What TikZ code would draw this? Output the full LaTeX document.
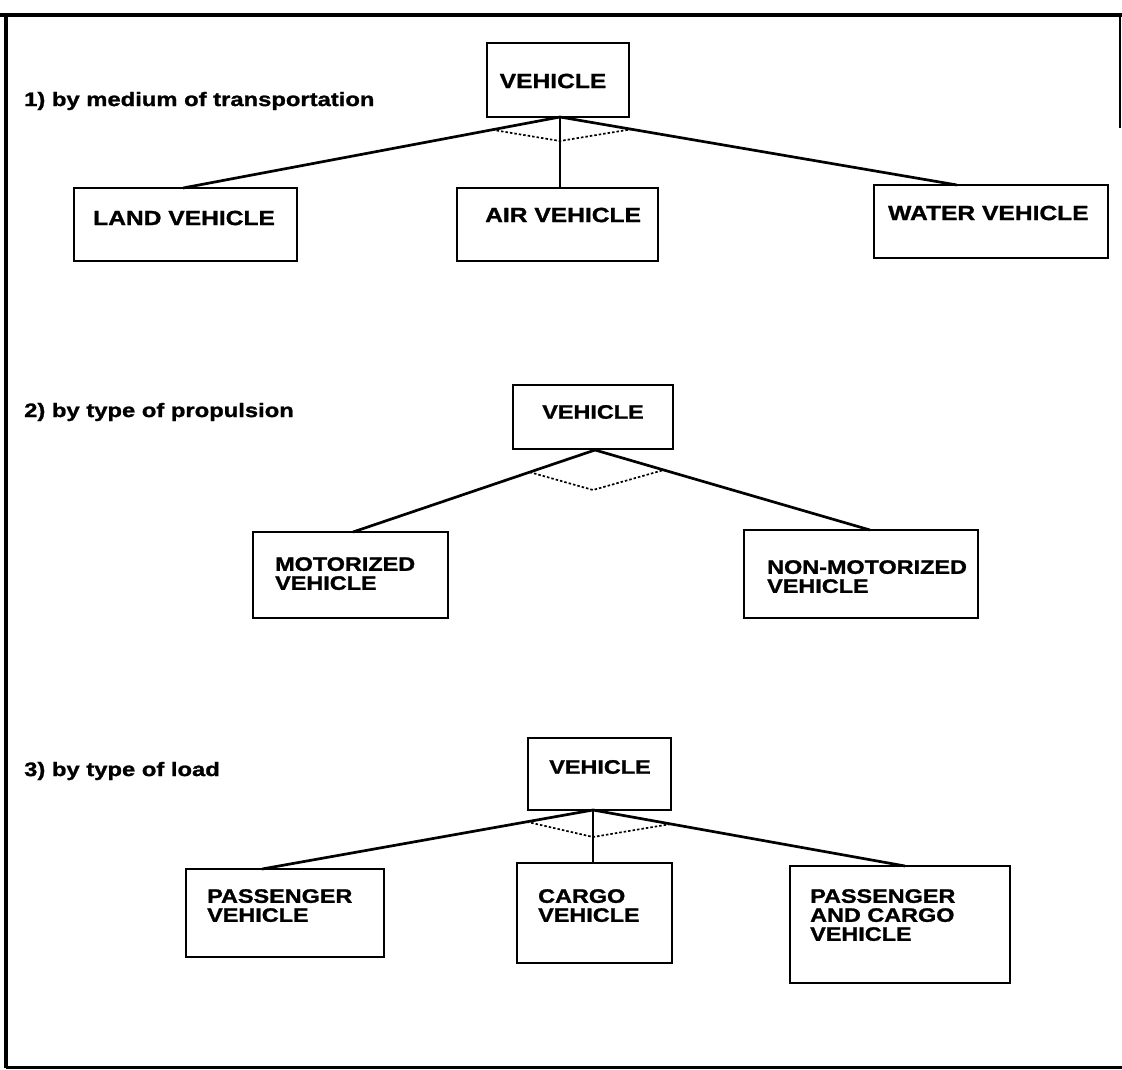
\documentclass[tikz,border=0pt]{standalone}
\usepackage{fontspec}
\setmainfont{Liberation Sans}
\newfontfamily\boxfont{Liberation Sans}[FakeStretch=1.2, BoldFeatures={FakeBold=1.3}]
\newfontfamily\capfont{Liberation Sans}[FakeStretch=1.22, BoldFeatures={FakeBold=1.3}]
\usetikzlibrary{calc}

\tikzset{
  box/.style={draw, line width=2.7pt, rectangle, inner sep=0pt},
  txt/.style={inner sep=0pt, align=left, font=\boxfont\bfseries\fontsize{19.5}{19}\selectfont},
  bigtxt/.style={inner sep=0pt, align=left, font=\boxfont\bfseries\fontsize{20.5}{19}\selectfont},
  caption/.style={inner sep=0pt, anchor=west, font=\capfont\bfseries\fontsize{19.5}{20}\selectfont},
  link/.style={line width=2.7pt},
  split/.style={line width=1.7pt, dash pattern=on 2.5pt off 2pt},
}

\begin{document}
\begin{tikzpicture}[x=1pt, y=-1pt]
\useasboundingbox (0,0) rectangle (1122,1070);

% outer frame
\draw[line width=4.5pt] (0,15) -- (1122,15);
\draw[line width=4pt] (6,15) -- (6,1068);
\draw[line width=3pt] (6,1067) -- (1122,1067);
\draw[line width=1.4pt] (1120,15) -- (1120,128);

% ---------- 1) by medium of transportation ----------
\node[caption] (cap1) at (24,101) {1) by medium of transportation};
\node[box, minimum width=142pt, minimum height=74pt] (v1) at (558,80) {};
\node[bigtxt] (v1t) at (553,81) {VEHICLE};

\node[box, minimum width=223pt, minimum height=73pt] (land) at (185.5,224.5) {};
\node[bigtxt, anchor=west] (landt) at (93,218) {LAND VEHICLE};
\node[box, minimum width=201pt, minimum height=73pt] (air) at (557.5,224.5) {};
\node[bigtxt, anchor=west] (airt) at (485,215) {AIR VEHICLE};
\node[box, minimum width=234pt, minimum height=73pt] (water) at (991,221.5) {};
\node[bigtxt, anchor=west] (watert) at (888,213) {WATER VEHICLE};

\coordinate (a1) at (560,117);
\coordinate (land-in) at (183,188);
\coordinate (air-in) at (560,188);
\coordinate (water-in) at (957,185);
\draw[link] (a1) -- (land-in);
\draw[link] (a1) -- (air-in);
\draw[link] (a1) -- (water-in);
\coordinate (d1a) at ($(a1)!0.18!(land-in)$);
\coordinate (d1m) at (560,141);
\coordinate (d1b) at ($(a1)!0.18!(water-in)$);
\draw[split] (d1a) -- (d1m) -- (d1b);

% ---------- 2) by type of propulsion ----------
\node[caption] (cap2) at (24,412) {2) by type of propulsion};
\node[box, minimum width=160pt, minimum height=64pt] (v2) at (593,417) {};
\node[txt] (v2t) at (593,412) {VEHICLE};

\node[box, minimum width=195pt, minimum height=86pt] (mot) at (350.5,575) {};
\node[txt, anchor=north west] (mott) at (275,557) {MOTORIZED\\VEHICLE};
\node[box, minimum width=234pt, minimum height=88pt] (non) at (861,574) {};
\node[txt, anchor=north west] (nont) at (767,560) {NON-MOTORIZED\\VEHICLE};

\coordinate (a2) at (595,450);
\coordinate (mot-in) at (353,532);
\coordinate (non-in) at (870,530);
\draw[link] (a2) -- (mot-in);
\draw[link] (a2) -- (non-in);
\coordinate (d2a) at ($(a2)!0.27!(mot-in)$);
\coordinate (d2m) at (593,490);
\coordinate (d2b) at ($(a2)!0.25!(non-in)$);
\draw[split] (d2a) -- (d2m) -- (d2b);

% ---------- 3) by type of load ----------
\node[caption] (cap3) at (24,771) {3) by type of load};
\node[box, minimum width=143pt, minimum height=72pt] (v3) at (599.5,774) {};
\node[txt] (v3t) at (600,767) {VEHICLE};

\node[box, minimum width=198pt, minimum height=88pt] (pass) at (285,913) {};
\node[txt, anchor=north west] (passt) at (207,889) {PASSENGER\\VEHICLE};
\node[box, minimum width=155pt, minimum height=100pt] (cargo) at (594.5,913) {};
\node[txt, anchor=north west] (cargot) at (538,889) {CARGO\\VEHICLE};
\node[box, minimum width=220pt, minimum height=117pt] (pc) at (900,924.5) {};
\node[txt, anchor=north west] (pct) at (810,889) {PASSENGER\\AND CARGO\\VEHICLE};

\coordinate (a3) at (593,810);
\coordinate (pass-in) at (262,869);
\coordinate (cargo-in) at (593,863);
\coordinate (pc-in) at (905,866);
\draw[link] (a3) -- (pass-in);
\draw[link] (a3) -- (cargo-in);
\draw[link] (a3) -- (pc-in);
\coordinate (d3a) at ($(a3)!0.2!(pass-in)$);
\coordinate (d3m) at (593,837);
\coordinate (d3b) at ($(a3)!0.25!(pc-in)$);
\draw[split] (d3a) -- (d3m) -- (d3b);
\end{tikzpicture}
\end{document}
